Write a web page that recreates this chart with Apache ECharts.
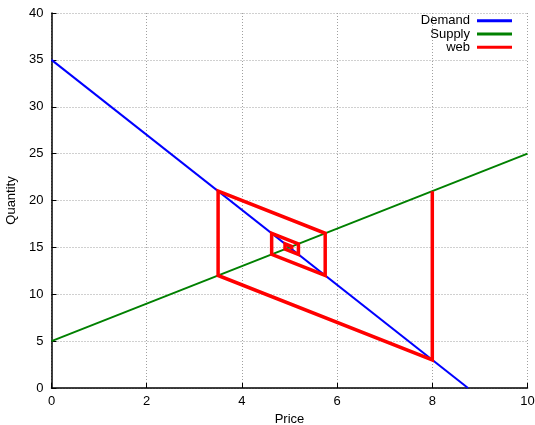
<!DOCTYPE html>
<html><head><meta charset="utf-8">
<script src="https://cdn.jsdelivr.net/npm/echarts@6/dist/echarts.min.js"></script>
<style>html,body{margin:0;padding:0;background:#fff}#c{width:535px;height:425px}</style>
</head><body><div id="c"></div>
<script>
var xTicks = [0, 2, 4, 6, 8, 10];
var yTicks = [0, 5, 10, 15, 20, 25, 30, 35, 40];
var demandData = [[0, 35], [8.75, 0]];
var supplyData = [[0, 5], [10, 25]];
var webData = [[8, 21], [8, 3], [3.5, 12], [3.5, 21], [5.75, 16.5], [5.75, 12],
  [4.625, 14.25], [4.625, 16.5], [5.1875, 15.375], [5.1875, 14.25],
  [4.906, 14.81], [4.906, 15.375], [5.047, 15.09], [5.047, 14.81]];
var seriesNames = ['Demand', 'Supply', 'web'];
var seriesColors = ['#0000ff', '#008000', '#ff0000'];

var font = 'Liberation Sans, Arial, Helvetica, sans-serif';
var chart = echarts.init(document.getElementById('c'), null, {renderer: 'canvas'});
chart.setOption({
  animation: false,
  backgroundColor: '#fff',
  grid: {left: 51.5, right: 7.5, top: 13, bottom: 37, containLabel: false, outerBoundsMode: 'none'},
  legend: {
    orient: 'vertical', right: 18, top: 9, align: 'right',
    itemWidth: 35, itemHeight: 3, itemGap: 0, icon: 'rect',
    textStyle: {fontFamily: font, fontSize: 13, color: '#000', lineHeight: 13.3, padding: [0, 2, 0, 0]},
    data: seriesNames
  },
  xAxis: {
    type: 'value', min: xTicks[0], max: xTicks[xTicks.length - 1], interval: 2,
    name: 'Price', nameLocation: 'middle', nameGap: 24,
    nameTextStyle: {fontFamily: font, fontSize: 13, color: '#000'},
    axisLine: {show: true, onZero: false, lineStyle: {color: '#000', width: 1.5}},
    axisTick: {show: true, inside: true, length: 5, lineStyle: {color: '#000'}},
    axisLabel: {fontFamily: font, fontSize: 13, color: '#000', margin: 7},
    splitLine: {show: true, lineStyle: {color: '#a0a0a0', type: [1, 2], width: 1}}
  },
  yAxis: {
    type: 'value', min: yTicks[0], max: yTicks[yTicks.length - 1], interval: 5,
    name: 'Quantity', nameLocation: 'middle', nameGap: 29, nameRotate: 90,
    nameTextStyle: {fontFamily: font, fontSize: 13, color: '#000'},
    axisLine: {show: true, onZero: false, lineStyle: {color: '#000', width: 1.5}},
    axisTick: {show: true, inside: true, length: 5, lineStyle: {color: '#000'}},
    axisLabel: {fontFamily: font, fontSize: 13, color: '#000', margin: 8},
    splitLine: {show: true, lineStyle: {color: '#a0a0a0', type: [1, 2], width: 1}}
  },
  series: [
    {name: seriesNames[0], type: 'line', data: demandData, showSymbol: false,
     lineStyle: {color: seriesColors[0], width: 2}, itemStyle: {color: seriesColors[0]}},
    {name: seriesNames[1], type: 'line', data: supplyData, showSymbol: false,
     lineStyle: {color: seriesColors[1], width: 2}, itemStyle: {color: seriesColors[1]}},
    {name: seriesNames[2], type: 'line', data: webData, showSymbol: false,
     lineStyle: {color: seriesColors[2], width: 3.5, join: 'miter'}, itemStyle: {color: seriesColors[2]}}
  ]
});
</script></body></html>
